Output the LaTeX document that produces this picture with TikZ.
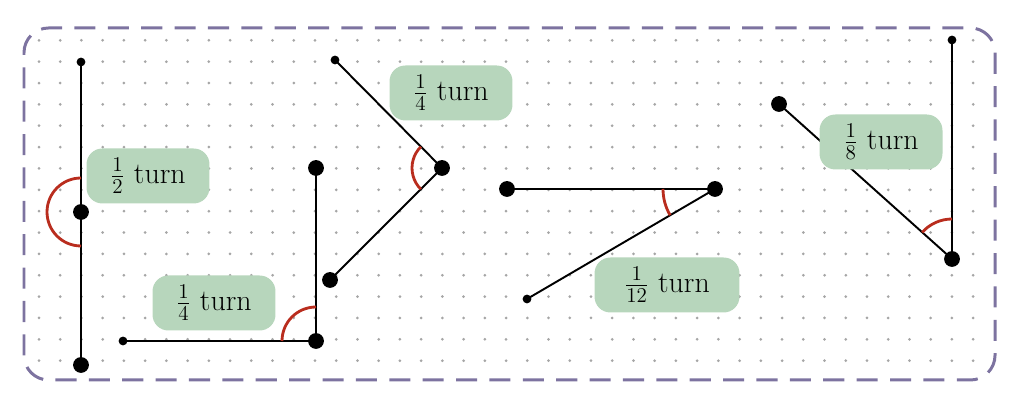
\documentclass[tikz,border=0pt]{standalone}
\usetikzlibrary{angles}
\definecolor{framepurple}{RGB}{125,115,160}
\definecolor{turngreen}{RGB}{183,214,188}
\definecolor{anglered}{RGB}{185,45,30}

\begin{document}
\begin{tikzpicture}[
    x=0.02cm, y=0.02cm,
    grid dot/.style={fill=black!35},
    ray/.style={black,line width=1.1pt},
    end dot/.style={circle,fill=black,inner sep=0pt,minimum size=5pt},
    vertex dot/.style={circle,fill=black,inner sep=0pt,minimum size=9pt},
    turn label/.style={fill=turngreen,rounded corners=9pt,minimum width=2.46cm,minimum height=1.1cm,font=\fontsize{17}{20}\selectfont},
    turn arc/.style={draw=anglered,line width=1.6pt}
]
\useasboundingbox (0,0) rectangle (1024,404);

% Rahmen
\draw[framepurple,line width=1.7pt,dash pattern=on 12pt off 7pt,rounded corners=14pt] (24,24) rectangle (995,376);

% Punktraster
\foreach \i in {0,...,44}
  \foreach \j in {0,...,15}
    \fill[grid dot] ({39+21.23*\i},{363.7-21.36*\j}) circle (1.5);

% Halbe Drehung
\coordinate (a1) at (81,342);
\coordinate (a2) at (81,192);
\coordinate (a3) at (81,39);
\draw[ray] (a1) -- (a2) -- (a3);
\pic[turn arc,angle radius=0.68cm] {angle=a1--a2--a3};

% Viertel Drehung unten
\coordinate (b1) at (123,63);
\coordinate (b2) at (316,63);
\coordinate (b3) at (316,236);
\draw[ray] (b1) -- (b2) -- (b3);
\pic[turn arc,angle radius=0.68cm] {angle=b3--b2--b1};

% Viertel Drehung oben
\coordinate (c1) at (335,344);
\coordinate (c2) at (442,236);
\coordinate (c3) at (330,124);
\draw[ray] (c1) -- (c2) -- (c3);
\pic[turn arc,angle radius=0.6cm] {angle=c1--c2--c3};

% Zwoelftel Drehung
\coordinate (d1) at (507,215);
\coordinate (d2) at (715,215);
\coordinate (d3) at (527,105);
\draw[ray] (d1) -- (d2) -- (d3);
\pic[turn arc,angle radius=1.04cm] {angle=d1--d2--d3};

% Achtel Drehung
\coordinate (e1) at (952,364);
\coordinate (e2) at (952,145);
\coordinate (e3) at (779,300);
\draw[ray] (e1) -- (e2) -- (e3);
\pic[turn arc,angle radius=0.8cm] {angle=e1--e2--e3};

% Endpunkte
\foreach \p in {a1,b1,c1,d3,e1}
  \node[end dot] at (\p) {};
\foreach \p in {a2,a3,b2,b3,c2,c3,d1,d2,e2,e3}
  \node[vertex dot] at (\p) {};

% Beschriftungen
\node[turn label] (half) at (148,228) {$\frac{1}{2}$ turn};
\node[turn label] (quarterTop) at (451,311) {$\frac{1}{4}$ turn};
\node[turn label] (quarterLow) at (214,101) {$\frac{1}{4}$ turn};
\node[turn label,minimum width=2.9cm] (twelfth) at (667,119) {$\frac{1}{12}$ turn};
\node[turn label] (eighth) at (881,262) {$\frac{1}{8}$ turn};

\end{tikzpicture}
\end{document}
